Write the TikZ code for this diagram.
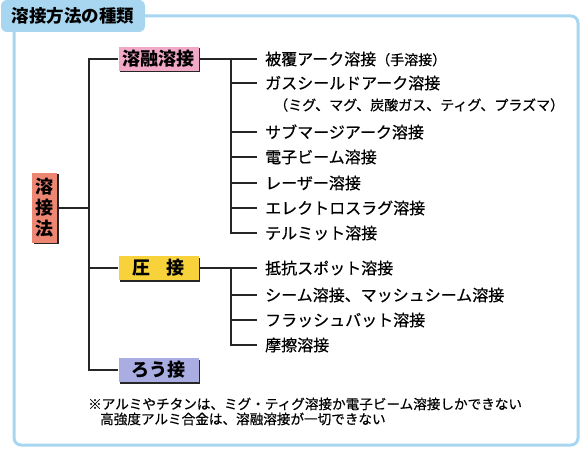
\documentclass[tikz,border=0pt]{standalone}
\usepackage{fontspec}
\setmainfont{Noto Sans CJK JP}
\newfontfamily\leaffont{Noto Sans CJK JP}[FakeBold=0.5]
\usetikzlibrary{shadows}

\definecolor{frameblue}{HTML}{A8D6F0}
\definecolor{yoyupink}{HTML}{F2A9C8}
\definecolor{atsuyellow}{HTML}{F8D23A}
\definecolor{roulav}{HTML}{A9ADE2}
\definecolor{rootsalmon}{HTML}{EE8674}

\begin{document}
\begin{tikzpicture}[x=1pt,y=-1pt,
    frame/.style={draw=frameblue,line width=3pt,rounded corners=7pt},
    tab/.style={fill=frameblue,rounded corners=6pt,minimum width=144pt,minimum height=32pt,inner sep=0pt,
      font=\fontsize{17.5}{20}\selectfont\bfseries},
    kind/.style={minimum width=80pt,minimum height=24pt,inner sep=0pt,font=\fontsize{18}{21}\selectfont\bfseries,
      drop shadow={shadow xshift=1.5pt,shadow yshift=-1.5pt,fill=black!85,opacity=1}},
    leaf/.style={anchor=west,inner xsep=8pt,inner ysep=0pt,font=\fontsize{16}{19}\leaffont},
    tree/.style={draw=black!85,line width=1.4pt},
    note/.style={anchor=west,inner sep=0pt,font=\fontsize{13.6}{16}\leaffont}]

\useasboundingbox (0,0) rectangle (581,449);

% title tab and frame
\node[tab] (title) at (73,16) {溶接方法の種類};
\draw[frame] (title.east) -- (578,16) -- (578,445) -- (14,445) -- (title.south -| 14,0);

% main boxes
\node[kind,fill=rootsalmon,minimum width=25pt,minimum height=70pt,align=center,
  font=\fontsize{18}{21}\selectfont\bfseries] (root) at (44.5,208) {溶\\接\\法};
\node[kind,fill=yoyupink] (yoyu) at (158.5,59) {溶融溶接};
\node[kind,fill=atsuyellow] (atsu) at (158.5,268) {圧\hspace{0.9em}接};
\node[kind,fill=roulav] (rou) at (158.5,370) {ろう接};

% fusion welding items
\node[leaf] (k1) at (257,59) {被覆アーク溶接{\fontsize{14}{16}\selectfont （手溶接）}};
\node[leaf] (k2) at (257,83) {ガスシールドアーク溶接};
\node[anchor=west,inner sep=0pt,font=\fontsize{14}{16}\leaffont] (k2n) at (274,105)
  {（ミグ、マグ、炭酸ガス、ティグ、プラズマ）};
\node[leaf] (k3) at (257,132) {サブマージアーク溶接};
\node[leaf] (k4) at (257,157) {電子ビーム溶接};
\node[leaf] (k5) at (257,183) {レーザー溶接};
\node[leaf] (k6) at (257,208) {エレクトロスラグ溶接};
\node[leaf] (k7) at (257,233) {テルミット溶接};

% pressure welding items
\node[leaf] (a1) at (257,268) {抵抗スポット溶接};
\node[leaf] (a2) at (257,295) {シーム溶接、マッシュシーム溶接};
\node[leaf] (a3) at (257,320) {フラッシュバット溶接};
\node[leaf] (a4) at (257,345) {摩擦溶接};

% notes
\node[note] (n1) at (88,404) {※アルミやチタンは、ミグ・ティグ溶接か電子ビーム溶接しかできない};
\node[note] (n2) at (100,419) {高強度アルミ合金は、溶融溶接が一切できない};

% tree lines
\coordinate (trunk) at (89,0);
\coordinate (br) at (231,0);
\draw[tree] (root.east) -- (root.east -| trunk);
\draw[tree] (yoyu.west) -- (yoyu.west -| trunk) -- (rou.west -| trunk) -- (rou.west);
\draw[tree] (atsu.west) -- (atsu.west -| trunk);

\draw[tree] (yoyu.east) -- (k1.west);
\draw[tree] (k1.west -| br) -- (k7.west -| br) -- (k7.west);
\foreach \k in {k2,k3,k4,k5,k6}
  \draw[tree] (\k.west -| br) -- (\k.west);

\draw[tree] (atsu.east) -- (a1.west);
\draw[tree] (a1.west -| br) -- (a4.west -| br) -- (a4.west);
\foreach \k in {a2,a3}
  \draw[tree] (\k.west -| br) -- (\k.west);

\end{tikzpicture}
\end{document}
